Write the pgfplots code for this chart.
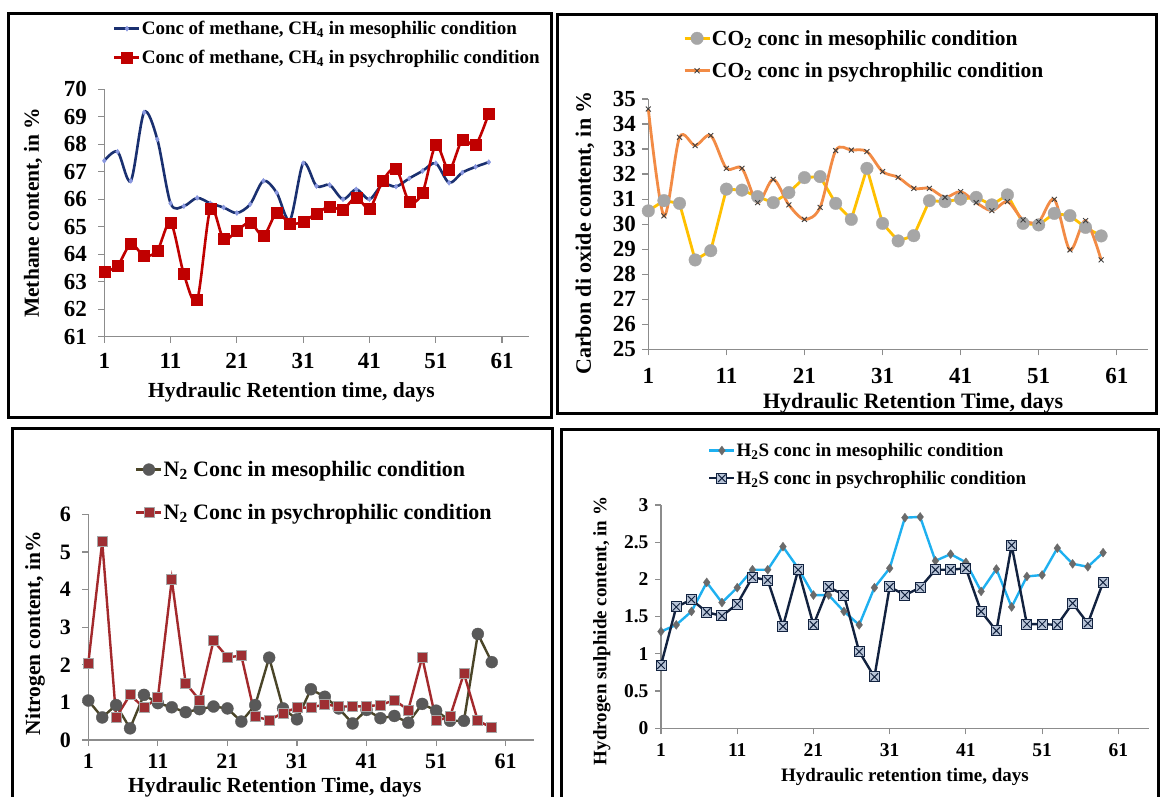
\documentclass[border=0pt]{standalone}
\usepackage{fontspec}
\setmainfont{Liberation Serif}
\usepackage{pgfplots}
\pgfplotsset{compat=1.18}
\usepackage{pgfplotstable}

\definecolor{axgray}{HTML}{8C8C8C}
\definecolor{navyA}{HTML}{1A3070}
\definecolor{navyAmark}{HTML}{8A98E0}
\definecolor{redA}{HTML}{C00000}
\definecolor{goldB}{HTML}{FFC000}
\definecolor{greyB}{HTML}{A6A6A6}
\definecolor{orangeB}{HTML}{F28B45}
\definecolor{xB}{HTML}{404040}
\definecolor{oliveC}{HTML}{4A4528}
\definecolor{greyC}{HTML}{595959}
\definecolor{maroonC}{HTML}{A3292C}
\definecolor{sqC}{HTML}{9E2F33}
\definecolor{blueD}{HTML}{1EB0F0}
\definecolor{diaD}{HTML}{6A6A6A}
\definecolor{navyD}{HTML}{12223F}
\definecolor{boxD}{HTML}{B9C5D8}

\newcommand{\fs}[1]{\fontsize{#1bp}{#1bp}\selectfont\bfseries}

\pgfdeclareplotmark{boxx}{%
  \pgfpathrectangle{\pgfqpoint{-\pgfplotmarksize}{-\pgfplotmarksize}}{\pgfqpoint{2\pgfplotmarksize}{2\pgfplotmarksize}}%
  \pgfusepathqfillstroke
  \pgfpathmoveto{\pgfqpoint{-.75\pgfplotmarksize}{-.75\pgfplotmarksize}}%
  \pgfpathlineto{\pgfqpoint{.75\pgfplotmarksize}{.75\pgfplotmarksize}}%
  \pgfpathmoveto{\pgfqpoint{-.75\pgfplotmarksize}{.75\pgfplotmarksize}}%
  \pgfpathlineto{\pgfqpoint{.75\pgfplotmarksize}{-.75\pgfplotmarksize}}%
  \pgfusepathqstroke
}

\pgfplotsset{panel/.style={
  scale only axis, axis lines=left,
  axis line style={-, draw=axgray, line width=1.2bp},
  xmin=1, xmax=65, xtick={1,11,21,31,41,51,61},
  tick align=outside, major tick length=6bp,
  tick style={draw=axgray, line width=1.2bp},
  /pgf/number format/assume math mode=true,
  clip=false,
  legend cell align=left,
  legend image code/.code={\draw[mark repeat=2,mark phase=2,##1] plot coordinates {(0bp,0bp) (12.5bp,0bp) (25bp,0bp)};},
}}

\pgfplotstableread{
day meso psy
1 67.40 63.36
3 67.73 63.58
5 66.67 64.37
7 69.16 63.94
9 68.18 64.13
11 65.85 65.16
13 65.75 63.28
15 66.05 62.33
17 65.85 65.65
19 65.70 64.55
21 65.50 64.85
23 65.82 65.16
25 66.67 64.67
27 66.24 65.50
29 65.24 65.12
31 67.31 65.18
33 66.48 65.49
35 66.52 65.73
37 66.00 65.63
39 66.36 66.07
41 66.00 65.67
43 66.55 66.67
45 66.46 67.12
47 66.76 65.91
49 67.03 66.24
51 67.31 67.97
53 66.60 67.06
55 66.97 68.16
57 67.18 67.97
59 67.35 69.13
}\chfour

\pgfplotstableread{
day meso psy
1 30.53 34.60
3 30.94 30.33
5 30.83 33.47
7 28.57 33.14
9 28.94 33.54
11 31.40 32.23
13 31.36 32.23
15 31.10 30.86
17 30.86 31.79
19 31.26 30.77
21 31.86 30.19
23 31.90 30.67
25 30.83 32.94
27 30.19 32.96
29 32.23 32.90
31 30.03 32.10
33 29.33 31.87
35 29.54 31.43
37 30.94 31.43
39 30.90 31.07
41 31.00 31.30
43 31.07 30.86
45 30.77 30.54
47 31.17 30.90
49 30.03 30.17
51 29.97 30.10
53 30.43 30.99
55 30.34 28.97
57 29.87 30.14
59 29.53 28.57
}\cotwo

\pgfplotstableread{
day meso psy
1 1.05 2.04
3 0.60 5.27
5 0.93 0.60
7 0.31 1.20
9 1.20 0.86
11 0.98 1.12
13 0.87 4.26
15 0.74 1.51
17 0.82 1.06
19 0.89 2.64
21 0.84 2.20
23 0.49 2.24
25 0.93 0.62
27 2.19 0.53
29 0.84 0.72
31 0.55 0.86
33 1.35 0.86
35 1.15 0.95
37 0.84 0.89
39 0.44 0.89
41 0.80 0.90
43 0.58 0.93
45 0.64 1.06
47 0.46 0.80
49 0.96 2.20
51 0.78 0.51
53 0.51 0.62
55 0.51 1.77
57 2.82 0.51
59 2.07 0.33
}\ntwo

\pgfplotstableread{
day meso psy
1 1.30 0.85
3 1.39 1.63
5 1.57 1.73
7 1.96 1.56
9 1.69 1.51
11 1.89 1.67
13 2.13 2.03
15 2.13 1.99
17 2.44 1.37
19 2.15 2.13
21 1.79 1.39
23 1.79 1.90
25 1.57 1.79
27 1.39 1.03
29 1.89 0.69
31 2.15 1.90
33 2.83 1.79
35 2.84 1.89
37 2.25 2.13
39 2.34 2.13
41 2.23 2.15
43 1.84 1.57
45 2.14 1.31
47 1.63 2.46
49 2.04 1.40
51 2.06 1.40
53 2.42 1.39
55 2.21 1.68
57 2.17 1.41
59 2.36 1.96
}\htwos

\begin{document}
\begin{tikzpicture}
\useasboundingbox (0,0) rectangle (1161bp,-797bp);
\fill[white] (0,0) rectangle (1161bp,-797bp);
% panel frames
\draw[line width=3bp] (8bp,-13bp) rectangle (551bp,-417bp);
\draw[line width=3bp] (557bp,-14bp) rectangle (1156bp,-413bp);
\draw[line width=3bp] (12bp,-428bp) rectangle (552bp,-815bp);
\draw[line width=3bp] (561bp,-429bp) rectangle (1158bp,-815bp);

% ---------- Panel 1: methane
\begin{axis}[panel, at={(104.3bp,-336.7bp)}, anchor=south west,
  width=424.3bp, height=247.4bp, ymin=61, ymax=70, ytick={61,62,...,70},
  ticklabel style={font=\fs{23}},
  yticklabel style={xshift=-8bp}, xticklabel style={yshift=-7bp},
  xlabel={Hydraulic Retention time, days},
  ylabel={Methane content, in \%},
  label style={font=\fs{21.5}},
  x label style={at={(axis description cs:0.441,-0.2235)}, anchor=center},
  y label style={at={(axis description cs:-0.168,0.501)}, anchor=center, rotate=0},
  legend style={draw=none, fill=none, at={(axis description cs:0.0205,1.284)}, anchor=north west,
    font=\fs{19}, row sep=10bp, inner sep=0pt, nodes={inner xsep=1bp, inner ysep=2bp}},
]
\addplot[navyA, line width=2.6bp, smooth, mark=diamond*, mark size=2.6bp,
  mark options={fill=navyAmark, draw=navyAmark, line width=0.3bp}] table[x=day,y=meso]{\chfour};
\addlegendentry{Conc of methane, CH\textsubscript{4} in mesophilic condition}
\addplot[redA, line width=2.6bp, smooth, mark=square*, mark size=5.5bp,
  mark options={fill=redA, draw=redA, line width=0.3bp}] table[x=day,y=psy]{\chfour};
\addlegendentry{Conc of methane, CH\textsubscript{4} in psychrophilic condition}
\end{axis}

% ---------- Panel 2: CO2
\begin{axis}[panel, at={(648.3bp,-349.3bp)}, anchor=south west,
  width=499.7bp, height=250.3bp, ymin=25, ymax=35, ytick={25,26,...,35},
  ticklabel style={font=\fs{23}},
  yticklabel style={xshift=-3bp}, xticklabel style={yshift=-9bp},
  xlabel={Hydraulic Retention Time, days},
  ylabel={Carbon di oxide content, in \%},
  label style={font=\fs{22}},
  x label style={at={(axis description cs:0.530,-0.2145)}, anchor=center},
  y label style={at={(axis description cs:-0.1267,0.4646)}, anchor=center, rotate=0},
  legend style={draw=none, fill=none, at={(axis description cs:0.0694,1.284)}, anchor=north west,
    font=\fs{21.5}, row sep=12bp, inner sep=0pt, nodes={inner xsep=1bp, inner ysep=2bp}},
]
\addplot[goldB, line width=2.8bp, mark=*, mark size=6.3bp,
  mark options={fill=greyB, draw=greyB, line width=0.3bp}] table[x=day,y=meso]{\cotwo};
\addlegendentry{CO\textsubscript{2} conc in mesophilic condition}
\addplot[orangeB, line width=2.8bp, smooth, mark=x, mark size=3.5bp,
  mark options={draw=xB, line width=0.9bp}] table[x=day,y=psy]{\cotwo};
\addlegendentry{CO\textsubscript{2} conc in psychrophilic condition}
\end{axis}

% ---------- Panel 3: N2
\begin{axis}[panel, at={(88.3bp,-740bp)}, anchor=south west,
  width=445.2bp, height=225.7bp, ymin=0, ymax=6, ytick={0,1,...,6},
  ticklabel style={font=\fs{22}},
  yticklabel style={xshift=-8bp}, xticklabel style={yshift=-4bp},
  xlabel={Hydraulic Retention Time, days},
  ylabel={Nitrogen content, in\%},
  label style={font=\fs{21.5}},
  x label style={at={(axis description cs:0.419,-0.208)}, anchor=center},
  y label style={at={(axis description cs:-0.1197,0.474)}, anchor=center, rotate=0},
  legend style={draw=none, fill=none, at={(axis description cs:0.105,1.245)}, anchor=north west,
    font=\fs{22}, row sep=22bp, inner sep=0pt, nodes={inner xsep=1bp, inner ysep=2bp}},
]
\addplot[oliveC, line width=2.4bp, mark=*, mark size=6bp,
  mark options={fill=greyC, draw=greyC, line width=0.3bp}] table[x=day,y=meso]{\ntwo};
\addlegendentry{N\textsubscript{2} Conc in mesophilic condition}
\addplot[maroonC, line width=2.4bp, mark=square*, mark size=5bp,
  mark options={fill=sqC, draw=greyB, line width=0.8bp}] table[x=day,y=psy]{\ntwo};
\addlegendentry{N\textsubscript{2} Conc in psychrophilic condition}
\end{axis}

% ---------- Panel 4: H2S
\begin{axis}[panel, at={(661bp,-728.3bp)}, anchor=south west,
  width=487.8bp, height=223.3bp, ymin=0, ymax=3, ytick={0,0.5,...,3},
  ticklabel style={font=\fs{19.5}},
  yticklabel style={xshift=-3bp}, xticklabel style={yshift=-6bp},
  xlabel={Hydraulic retention time, days},
  ylabel={Hydrogen sulphide content, in \%},
  label style={font=\fs{19}},
  x label style={at={(axis description cs:0.500,-0.218)}, anchor=center},
  y label style={at={(axis description cs:-0.121,0.436)}, anchor=center, rotate=0},
  legend style={draw=none, fill=none, at={(axis description cs:0.0963,1.2866)}, anchor=north west,
    font=\fs{19}, row sep=9bp, inner sep=0pt, nodes={inner xsep=1bp, inner ysep=2bp}},
]
\addplot[blueD, line width=2.4bp, mark=diamond*, mark size=4.5bp,
  mark options={fill=diaD, draw=diaD, line width=0.3bp}] table[x=day,y=meso]{\htwos};
\addlegendentry{H\textsubscript{2}S conc in mesophilic condition}
\addplot[navyD, line width=2.4bp, mark=boxx, mark size=5bp,
  mark options={fill=boxD, draw=navyD, line width=1bp}] table[x=day,y=psy]{\htwos};
\addlegendentry{H\textsubscript{2}S conc in psychrophilic condition}
\end{axis}
\end{tikzpicture}
\end{document}
